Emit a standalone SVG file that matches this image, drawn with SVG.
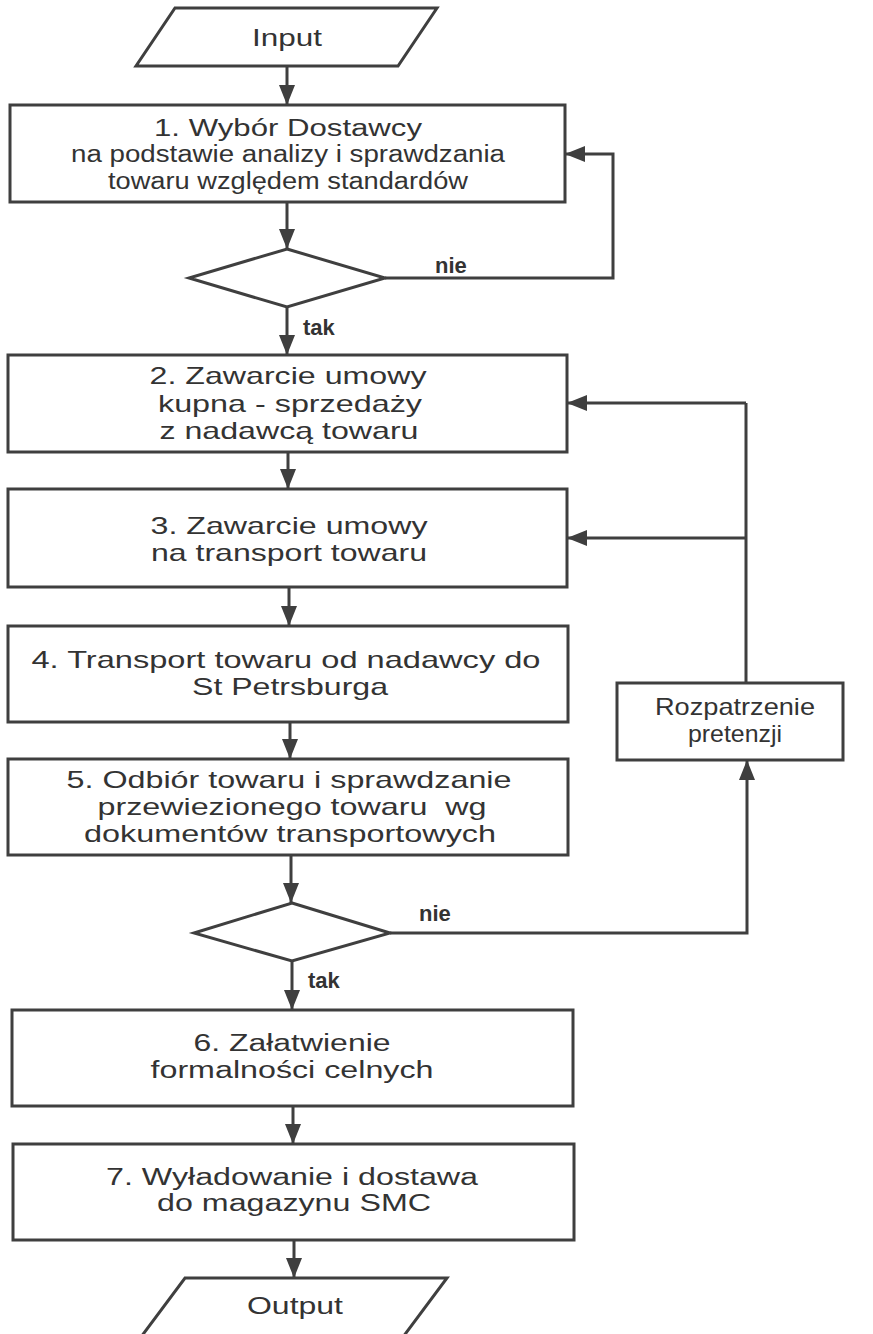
<svg xmlns="http://www.w3.org/2000/svg" width="873" height="1334" viewBox="0 0 873 1334">
<defs>
<style>
.shape{fill:#fff;stroke:#3f3f3f;stroke-width:3}
.conn{fill:none;stroke:#3f3f3f;stroke-width:3;marker-end:url(#ah)}
.line{fill:none;stroke:#3f3f3f;stroke-width:3}
.w{font-family:"Liberation Sans",Arial,sans-serif;font-size:23px;fill:#333;text-anchor:middle}
.n{font-family:"Liberation Sans",Arial,sans-serif;font-size:24px;fill:#333;text-anchor:middle}
.lbl{font-family:"Liberation Sans",Arial,sans-serif;font-size:22px;font-weight:bold;fill:#333}
</style>
<marker id="ah" markerWidth="20" markerHeight="16" refX="20" refY="8" orient="auto" markerUnits="userSpaceOnUse">
<path d="M0,0 L20,8 L0,16 Z" fill="#3f3f3f"/>
</marker>
</defs>
<rect width="873" height="1334" fill="#fff"/>

<g id="connectors">
<path class="conn" d="M287,66 V105"/>
<path class="conn" d="M287,202 V249"/>
<path class="conn" d="M385,278 H613 V154 H565"/>
<path class="conn" d="M287,307 V355"/>
<path class="conn" d="M288,452 V489"/>
<path class="conn" d="M289,587 V626"/>
<path class="conn" d="M290,722 V759"/>
<path class="conn" d="M291,855 V903"/>
<path class="conn" d="M390,933 H747 V760"/>
<path class="line" d="M746,683 V403"/>
<path class="conn" d="M746,403 H567"/>
<path class="conn" d="M746,538 H567"/>
<path class="conn" d="M292,961 V1010"/>
<path class="conn" d="M293,1106 V1144"/>
<path class="conn" d="M294,1240 V1278"/>
<text class="lbl" x="435" y="273">nie</text>
<text class="lbl" x="303" y="335">tak</text>
<text class="lbl" x="419" y="921">nie</text>
<text class="lbl" x="308" y="988">tak</text>
</g>

<g id="input">
<polygon class="shape" points="175,8 437,8 398,66 136,66"/>
<text class="w" x="287" y="46" textLength="70" lengthAdjust="spacingAndGlyphs">Input</text>
</g>

<g id="step1">
<rect class="shape" x="10" y="105" width="555" height="97"/>
<text class="w" x="288" y="136" textLength="268" lengthAdjust="spacingAndGlyphs">1. Wybór Dostawcy</text>
<text class="w" x="288" y="162" textLength="434" lengthAdjust="spacingAndGlyphs">na podstawie analizy i sprawdzania</text>
<text class="w" x="288" y="189" textLength="360" lengthAdjust="spacingAndGlyphs">towaru względem standardów</text>
</g>

<g id="decision1">
<polygon class="shape" points="287,249 385,278 287,307 189,278"/>
</g>

<g id="step2">
<rect class="shape" x="8" y="355" width="559" height="97"/>
<text class="n" x="288" y="384" textLength="277" lengthAdjust="spacingAndGlyphs">2. Zawarcie umowy</text>
<text class="n" x="290" y="412" textLength="264" lengthAdjust="spacingAndGlyphs">kupna - sprzedaży</text>
<text class="n" x="289" y="439" textLength="259" lengthAdjust="spacingAndGlyphs">z nadawcą towaru</text>
</g>

<g id="step3">
<rect class="shape" x="8" y="489" width="559" height="98"/>
<text class="n" x="289" y="534" textLength="277" lengthAdjust="spacingAndGlyphs">3. Zawarcie umowy</text>
<text class="n" x="289" y="561" textLength="276" lengthAdjust="spacingAndGlyphs">na transport towaru</text>
</g>

<g id="step4">
<rect class="shape" x="8" y="626" width="560" height="96"/>
<text class="n" x="286" y="668" textLength="509" lengthAdjust="spacingAndGlyphs">4. Transport towaru od nadawcy do</text>
<text class="n" x="290" y="695" textLength="196" lengthAdjust="spacingAndGlyphs">St Petrsburga</text>
</g>

<g id="step5">
<rect class="shape" x="8" y="759" width="560" height="96"/>
<text class="n" x="289" y="788" textLength="445" lengthAdjust="spacingAndGlyphs">5. Odbiór towaru i sprawdzanie</text>
<text class="n" x="292" y="815" textLength="389" lengthAdjust="spacingAndGlyphs" xml:space="preserve" style="white-space:pre">przewiezionego towaru  wg</text>
<text class="n" x="290" y="842" textLength="412" lengthAdjust="spacingAndGlyphs">dokumentów transportowych</text>
</g>

<g id="decision2">
<polygon class="shape" points="292,903 390,933 292,961 194,933"/>
</g>

<g id="claims">
<rect class="shape" x="617" y="683" width="226" height="77"/>
<text class="n" x="735" y="715" textLength="160" lengthAdjust="spacingAndGlyphs">Rozpatrzenie</text>
<text class="n" x="735" y="742" textLength="94" lengthAdjust="spacingAndGlyphs">pretenzji</text>
</g>

<g id="step6">
<rect class="shape" x="12" y="1010" width="561" height="96"/>
<text class="w" x="292" y="1051" textLength="197" lengthAdjust="spacingAndGlyphs">6. Załatwienie</text>
<text class="w" x="292" y="1078" textLength="283" lengthAdjust="spacingAndGlyphs">formalności celnych</text>
</g>

<g id="step7">
<rect class="shape" x="13" y="1144" width="561" height="96"/>
<text class="w" x="292" y="1185" textLength="372" lengthAdjust="spacingAndGlyphs">7. Wyładowanie i dostawa</text>
<text class="w" x="294" y="1211" textLength="274" lengthAdjust="spacingAndGlyphs">do magazynu SMC</text>
</g>

<g id="output">
<polygon class="shape" points="185,1278 447,1278 403,1337 141,1337"/>
<text class="w" x="295" y="1314" textLength="96" lengthAdjust="spacingAndGlyphs">Output</text>
</g>
</svg>
